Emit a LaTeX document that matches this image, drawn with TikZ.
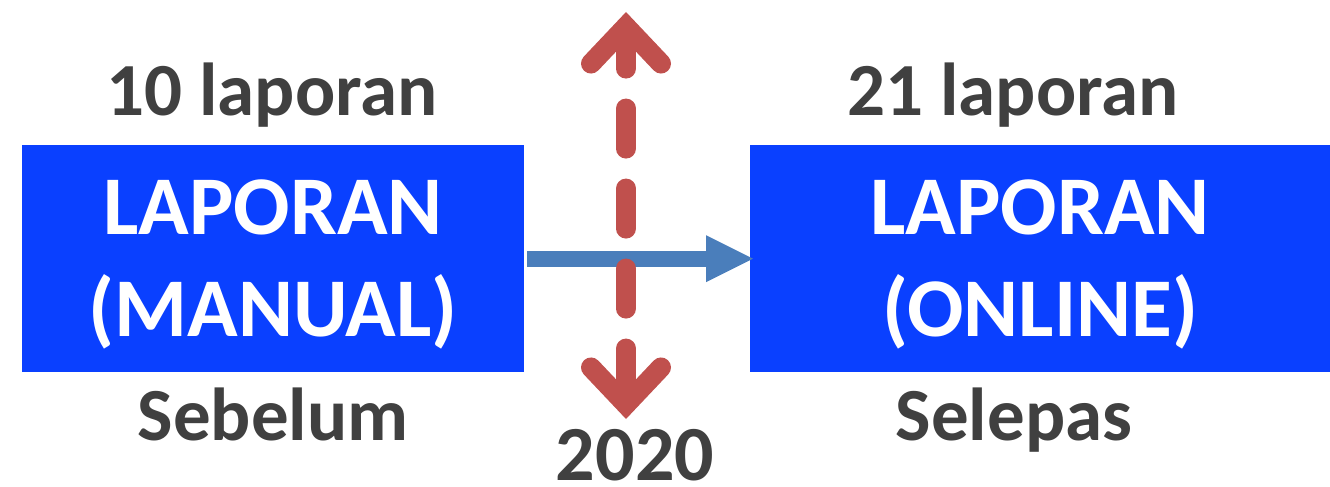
\documentclass[tikz,border=0pt]{standalone}
\usepackage{fontspec}
\setmainfont{Carlito}
\usetikzlibrary{arrows.meta}
\definecolor{boxblue}{RGB}{10,64,255}
\definecolor{txtgray}{RGB}{64,64,64}
\definecolor{arrred}{RGB}{192,80,77}
\definecolor{arrblue}{RGB}{74,126,187}
\tikzset{
  redbarb/.tip={Straight Barb[length=37pt, width=70pt, line width=20pt, line cap=round, line join=miter]},
  bluetri/.tip={Triangle[length=47pt, width=47pt, line width=0pt]}
}
\newcommand{\boxlines}[2]{\raisebox{-6.5pt}[\height][\depth]{\begin{tabular}{@{}c@{}}#1\\#2\end{tabular}}}
\begin{document}
\begin{tikzpicture}[x=1pt,y=-1pt,
  box/.style={fill=boxblue, text=white, font=\fontsize{83.5}{102}\selectfont\bfseries,
    align=center, minimum height=227pt, inner sep=0pt, anchor=north west},
  lbl/.style={text=txtgray, font=\fontsize{75}{86}\selectfont\bfseries, anchor=base, inner sep=0pt},
  redarrow/.style={draw=arrred, line width=20pt, line cap=round, dash pattern=on 40pt off 40pt, dash phase=8pt, redbarb-redbarb},
  bluearrow/.style={draw=arrblue, line width=16pt, -bluetri}
]
\useasboundingbox (0,0) rectangle (1330,487);
\node[box, minimum width=502pt] (b1) at (22,145) {\boxlines{LAPORAN}{(MANUAL)}};
\node[box, minimum width=580pt] (b2) at (750,145) {\boxlines{LAPORAN}{(ONLINE)}};
\node[lbl] (n10) at (272,115) {10 laporan};
\node[lbl] (n21) at (1013,115) {21 laporan};
\node[lbl] (seb) at (273,440) {Sebelum};
\node[lbl] (sel) at (1014,440) {Selepas};
\node[lbl, font=\fontsize{78}{90}\selectfont\bfseries] (yr) at (635,480) {2020};
\coordinate (rt) at (626,12);
\coordinate (rb) at (626,419);
\draw[bluearrow] ([xshift=3pt]b1.east) -- ([xshift=3pt]b2.west);
\draw[redarrow] (rt) -- (rb);
\end{tikzpicture}
\end{document}
